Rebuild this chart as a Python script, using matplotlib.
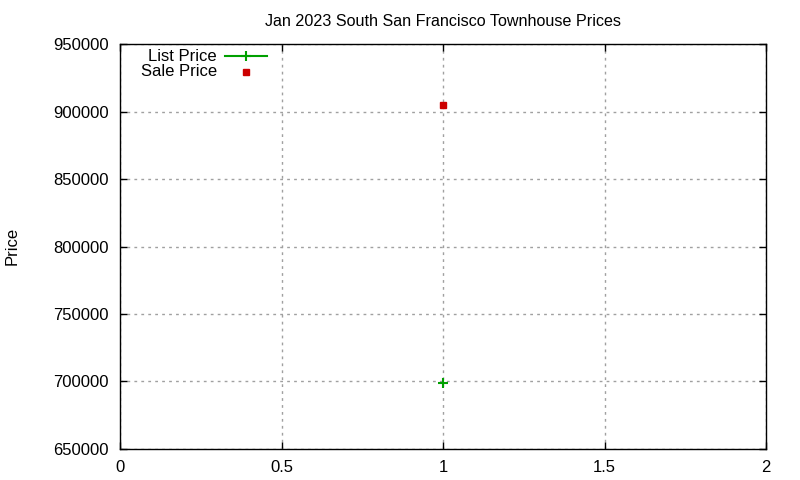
import numpy as np
import matplotlib.pyplot as plt
from matplotlib.lines import Line2D

plt.rcParams['font.family'] = ['Liberation Sans', 'DejaVu Sans']
plt.rcParams['font.size'] = 12

# data
x_vals = [1]
list_price = [699000]
sale_price = [905000]
series_names = ['List Price', 'Sale Price']

green = '#00a000'
red = '#cc0000'

fig = plt.figure(figsize=(8, 4.8), dpi=100)
ax = fig.add_axes([0.15, 0.0646, 0.8075, 0.8437])

ax.plot(x_vals, list_price, color=green, marker='+', markersize=7,
        markeredgewidth=1.5, linestyle='none')
ax.plot(x_vals, sale_price, color=red, marker='s', markersize=5,
        linestyle='none')

ax.set_xlim(0, 2)
ax.set_ylim(650000, 950000)
ax.set_xticks([0, 0.5, 1, 1.5, 2])
ax.set_xticklabels(['0', '0.5', '1', '1.5', '2'])
ax.set_yticks(np.arange(650000, 950001, 50000))
ax.set_yticklabels([str(v) for v in range(650000, 950001, 50000)])

ax.grid(True, color='#a0a0a0', linestyle=(0, (2, 3)), linewidth=1)
ax.tick_params(direction='in', top=True, right=True, length=5, width=1,
               labelsize=12, pad=8)
for s in ax.spines.values():
    s.set_linewidth(1)

ax.set_title('Jan 2023 South San Francisco Townhouse Prices', fontsize=11.6, pad=13)
fig.text(12 / 800, 1 - 246 / 480, 'Price', rotation=90, ha='center',
         va='center', fontsize=12)

# gnuplot style key: text right-justified, sample to the right
ax.text(0.150, 0.970, series_names[0], transform=ax.transAxes, ha='right',
        va='center', fontsize=12)
ax.text(0.150, 0.931, series_names[1], transform=ax.transAxes, ha='right',
        va='center', fontsize=12)
ax.add_line(Line2D([0.1625, 0.2276], [0.970, 0.970], transform=ax.transAxes,
                   color=green, linewidth=1.5))
ax.add_line(Line2D([0.195], [0.970], transform=ax.transAxes, color=green,
                   marker='+', markersize=7, markeredgewidth=1.5))
ax.add_line(Line2D([0.195], [0.931], transform=ax.transAxes, color=red,
                   marker='s', markersize=5, linestyle='none'))

fig.savefig('out.png', dpi=100)
